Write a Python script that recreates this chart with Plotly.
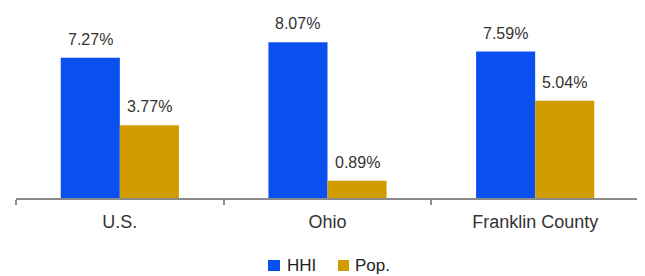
import plotly.graph_objects as go

categories = ["U.S.", "Ohio", "Franklin County"]
hhi = [7.27, 8.07, 7.59]
pop = [3.77, 0.89, 5.04]
series_names = ["HHI", "Pop."]

BLUE = "#0a50f0"
GOLD = "#d09c00"
FONT = "Liberation Sans, Arial, sans-serif"

# page body has an 8px default margin; size the figure so it fits the window
OFF = 8
W, H = 645 - OFF, 276 - OFF
ML, MR, MT, MB = 8, 6, 2, 78
PW = W - ML - MR
PH = H - MT - MB


def px_x(x):
    """screen x -> paper"""
    return (x - OFF - ML) / PW


def px_y(y):
    """screen y -> paper"""
    return (H - MB - (y - OFF)) / PH


fig = go.Figure()
colors = [BLUE, GOLD]
for name, vals, col in zip(series_names, [hhi, pop], colors):
    fig.add_trace(go.Bar(
        name=name, x=categories, y=vals, offsetgroup=name,
        marker=dict(color=col, line=dict(width=0)), showlegend=False,
    ))

# value labels
nser = len(series_names)
group_frac = 1 - 0.431
for si, vals in enumerate([hhi, pop]):
    for ci, v in enumerate(vals):
        xoff = (-group_frac / 2 + group_frac / nser * (si + 0.5))
        fig.add_annotation(
            x=ci + xoff, y=v, xref="x", yref="y", text=f"{v:.2f}%",
            showarrow=False, yanchor="bottom", yshift=8,
            font=dict(size=16, color="#333333", family=FONT),
        )

# legend (manual, compact)
leg_sq = [(268, 280), (338, 349)]
leg_tx = [287, 355]
for (x0, x1), tx, name, col in zip(leg_sq, leg_tx, series_names, colors):
    fig.add_shape(type="rect", xref="paper", yref="paper",
                  x0=px_x(x0), x1=px_x(x1), y0=px_y(271), y1=px_y(260),
                  fillcolor=col, line=dict(width=0))
    fig.add_annotation(x=px_x(tx - 2), y=px_y(265.5), xref="paper", yref="paper",
                       text=name, showarrow=False, xanchor="left", yanchor="middle",
                       font=dict(size=17, color="#222222", family=FONT))

fig.update_layout(
    width=W, height=H,
    margin=dict(l=ML, r=MR, t=MT, b=MB, autoexpand=False),
    paper_bgcolor="white", plot_bgcolor="white",
    barmode="group", bargap=0.431, bargroupgap=0,
    font=dict(family=FONT, size=18, color="#333333"),
    showlegend=False,
    xaxis=dict(showline=True, linecolor="#8a8a8a", linewidth=2, ticks="outside",
               tickson="boundaries", ticklen=5, tickcolor="#8a8a8a", tickwidth=1.5,
               tickfont=dict(size=18, color="#333333", family=FONT), showgrid=False,
               ticklabelstandoff=6),
    yaxis=dict(range=[0, 9.74], visible=False, showgrid=False, fixedrange=True),
)
fig.write_html("out.html")
